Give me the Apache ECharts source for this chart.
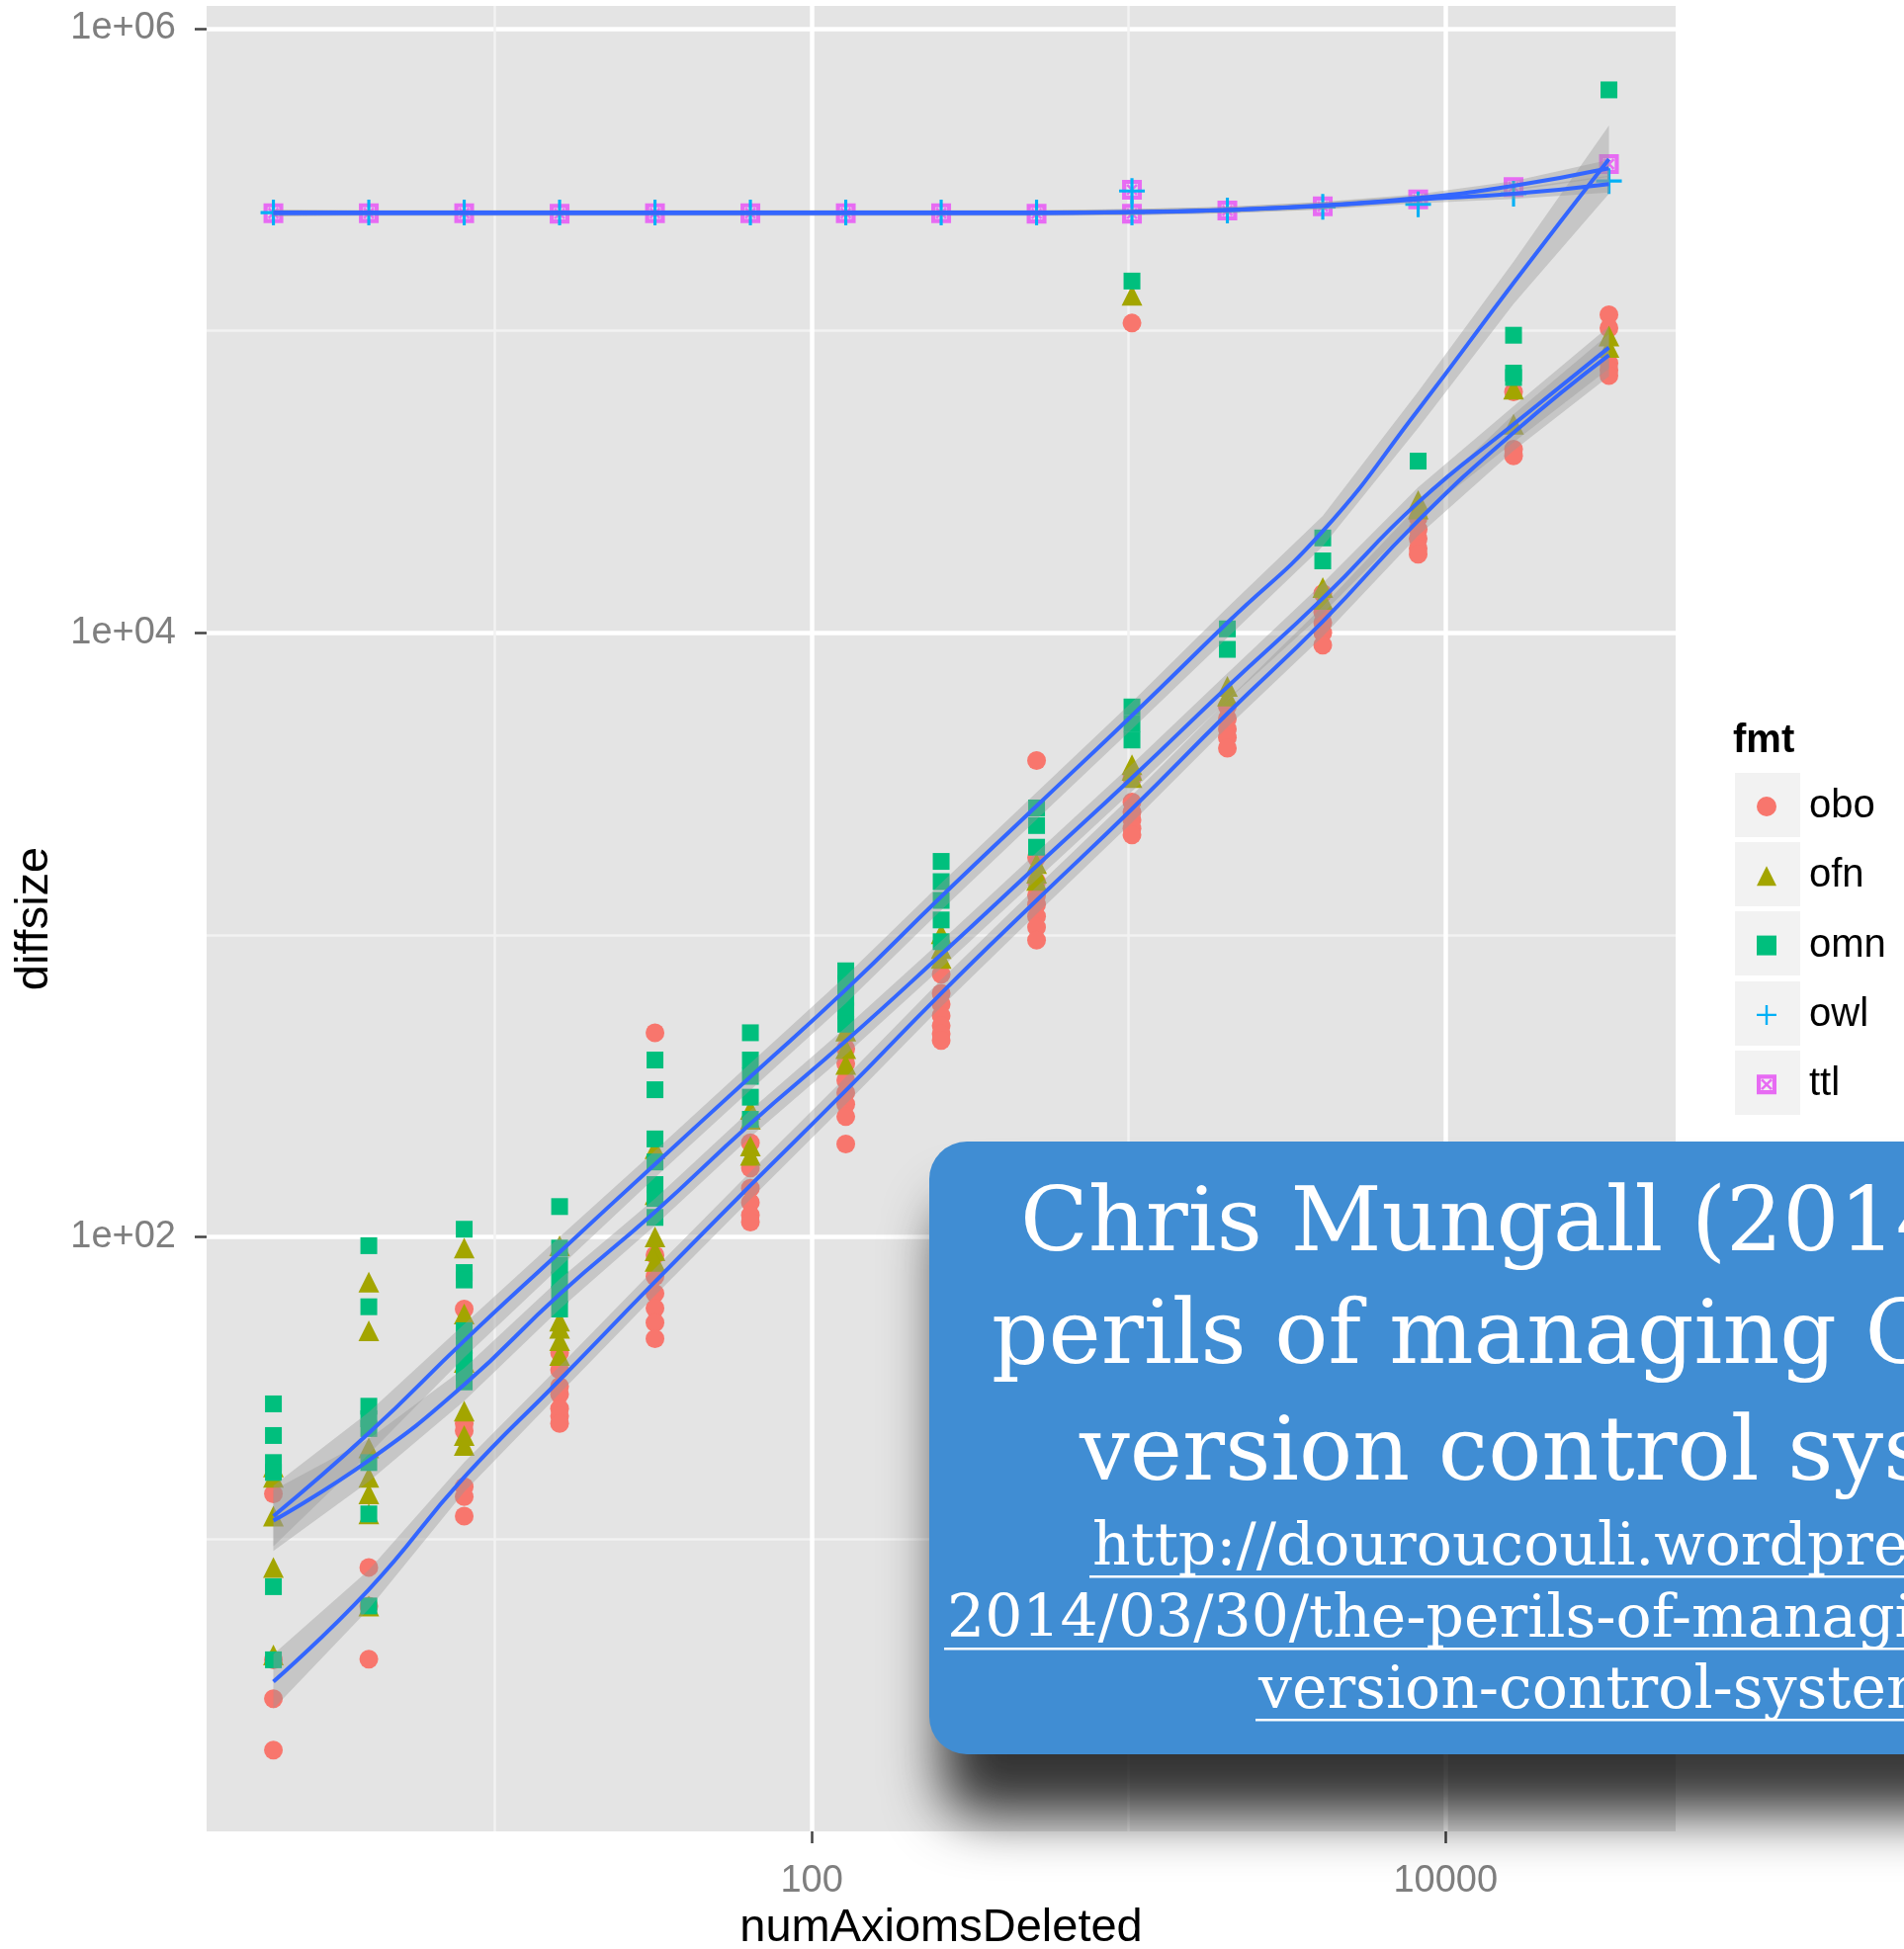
<!DOCTYPE html>
<html>
<head>
<meta charset="utf-8">
<script src="https://cdn.jsdelivr.net/npm/echarts@6.0.0/dist/echarts.min.js"></script>
<style>
html,body{margin:0;padding:0;background:#ffffff;}
#chart{width:1926px;height:1972px;}
</style>
</head>
<body>
<div id="chart"></div>
<script>
// ---------------- data ----------------
const xVals = [2, 4, 8, 16, 32, 64, 128, 256, 512, 1024, 2048, 4096, 8192, 16384, 32768];
const xTickLabels = [100, 10000];
const yTickLabels = [100, 10000, 1000000];
const formats = ['obo', 'ofn', 'omn', 'owl', 'ttl'];

const oboPts = [
  [2,14.1],[2,3.98],[2,2.96],[2,2.0],
  [4,8.05],[4,6.0],[4,4.0],
  [8,57.7],[8,24.1],[8,22.8],[8,14.9],[8,13.8],[8,11.9],
  [16,41.3],[16,36.3],[16,32],[16,30.1],[16,27],[16,25.5],[16,24.1],
  [32,474],[32,87],[32,74],[32,65],[32,58],[32,52],[32,46],
  [64,205],[64,169],[64,145],[64,130],[64,118],[64,112],
  [128,420],[128,375],[128,330],[128,300],[128,275],[128,250],[128,203],
  [256,740],[256,640],[256,590],[256,540],[256,500],[256,470],[256,447],
  [512,3776],[512,1800],[512,1500],[512,1350],[512,1260],[512,1150],[512,1060],[512,960],
  [1024,106000],[1024,3300],[1024,2750],[1024,2550],[1024,2400],[1024,2250],[1024,2140],
  [2048,5700],[2048,5200],[2048,4800],[2048,4500],[2048,4150],
  [4096,13500],[4096,11700],[4096,10800],[4096,10000],[4096,9100],
  [8192,24000],[8192,22000],[8192,20500],[8192,19000],[8192,18200],
  [16384,62700],[16384,40500],[16384,38500],
  [32768,113000],[32768,102000],[32768,78000],[32768,74000],[32768,71000]
];
const ofnPts = [
  [2,17.3],[2,16.0],[2,11.9],[2,8.05],[2,4.13],
  [4,70.8],[4,48.9],[4,20],[4,16],[4,14.1],[4,12.1],[4,6.0],
  [8,91.8],[8,55.6],[8,38.4],[8,26.5],[8,22],[8,20.4],
  [16,93.5],[16,52.6],[16,49.8],[16,45.3],[16,40.5],
  [32,196],[32,138],[32,100],[32,90],[32,83],
  [64,264],[64,245],[64,200],[64,186],
  [128,480],[128,420],[128,372],
  [256,1009],[256,900],[256,836],
  [512,1720],[512,1600],[512,1514],
  [1024,131000],[1024,3660],[1024,3500],[1024,3315],
  [2048,6640],[2048,6170],
  [4096,14100],[4096,12900],
  [8192,27400],[8192,25700],
  [16384,64000],[16384,49000],
  [32768,96000],[32768,88000]
];
const omnPts = [
  [2,28.0],[2,22.0],[2,17.9],[2,16.6],[2,6.95],[2,3.98],
  [4,93.5],[4,58.7],[4,27.5],[4,25],[4,23.2],[4,17.9],[4,12.1],[4,6.0],
  [8,106],[8,76.2],[8,72],[8,48.9],[8,43.7],[8,39],[8,35.6],[8,33.1],
  [16,126],[16,91.8],[16,80.6],[16,72],[16,64.5],[16,57.7],
  [32,385],[32,307],[32,211],[32,177],[32,149],[32,134],[32,116],
  [64,474],[64,385],[64,340],[64,290],[64,245],
  [128,760],[128,690],[128,620],[128,560],[128,506],
  [256,1750],[256,1500],[256,1300],[256,1120],[256,949],
  [512,2630],[512,2300],[512,1950],
  [1024,146000],[1024,5680],[1024,5000],[1024,4415],
  [2048,10300],[2048,8810],
  [4096,20600],[4096,17300],
  [8192,37000],
  [16384,96600],[16384,72400],[16384,70000],
  [32768,627000]
];
const owlPts = [
  [2,246000],[4,246000],[8,246000],[16,246000],[32,246000],[64,246000],[128,246000],
  [256,246000],[512,246000],[1024,290000],[1024,246000],[2048,250000],[4096,257000],
  [8192,262000],[16384,284000],[32768,313000]
];
const ttlPts = [
  [2,245000],[4,245000],[8,245000],[16,244000],[32,245000],[64,245000],[128,245000],
  [256,245000],[512,244000],[1024,293000],[1024,244000],[2048,250000],[4096,258000],
  [8192,272000],[16384,299000],[32768,356000]
];

// loess fits and confidence bands (per xVals)
const oboFit = [3.37, 6.8, 16, 33.6, 71, 148, 305, 640, 1300, 2610, 5400, 10900, 23500, 46000, 83000];
const oboLo  = [2.74, 5.86, 14.3, 30.3, 64.0, 133, 275, 577, 1172, 2353, 4869, 9715, 20945, 40070, 70640];
const oboHi  = [4.15, 7.89, 17.95, 37.3, 78.7, 164, 338, 710, 1442, 2894, 5989, 12230, 26367, 52810, 97525];
const ofnFit = [11.5, 18.2, 32.4, 64.6, 121, 237, 445, 861, 1690, 3310, 6620, 13000, 27000, 49000, 88000];
const ofnLo  = [9.13, 15.5, 28.6, 57.6, 109, 214, 401, 776, 1524, 2985, 5969, 11586, 24064, 42683, 74894];
const ofnHi  = [14.5, 21.4, 36.8, 72.5, 134, 263, 494, 955, 1874, 3671, 7342, 14586, 30294, 56252, 103400];
const omnFit = [11.9, 22.4, 45.3, 89, 174, 339, 658, 1337, 2670, 5320, 10800, 21700, 54700, 144000, 370000];
const omnLo  = [9.45, 19.1, 39.9, 79.3, 157, 306, 593, 1206, 2408, 4797, 9626, 19340, 47650, 122550, 284000];
const omnHi  = [15.0, 26.3, 51.4, 99.9, 193, 376, 730, 1483, 2961, 5900, 12118, 24347, 62800, 169200, 478200];
const owlFit = [246000,246000,246000,246000,246000,246000,246000,246000,246000,247000,251000,259000,272000,284000,306000];
const owlLo  = [240000,241000,241000,241000,241000,241000,241000,241000,241000,241000,245000,252000,264000,273000,287000];
const owlHi  = [252000,251000,251000,251000,251000,251000,251000,251000,251000,253000,257000,266000,280000,295000,326000];
const ttlFit = [245000,245000,245000,245000,245000,245000,245000,245000,245000,247000,251000,260000,275000,302000,345000];
const ttlLo  = [239000,240000,240000,240000,240000,240000,240000,240000,240000,241000,245000,253000,267000,291000,323000];
const ttlHi  = [251000,250000,250000,250000,250000,250000,250000,250000,250000,253000,257000,267000,283000,313000,368000];

const noteTitle = ['Chris Mungall (2014) The', 'perils of managing OWL in a', 'version control system'];
const noteUrl = ['http://douroucouli.wordpress.com/', '2014/03/30/the-perils-of-managing-owl-in-a-', 'version-control-system/'];

// ---------------- styling ----------------
const X_MIN = 1.231, X_MAX = 53200;
const Y_MIN = 1.076, Y_MAX = 1189000;
const colors = {obo:'#F8766D', ofn:'#A3A500', omn:'#00BF7D', owl:'#00B0F6', ttl:'#E76BF3'};
const FONT = '"Liberation Sans", Arial, Helvetica, sans-serif';
const SERIF = '"DejaVu Serif", serif';
const plusPath = 'path://M4.4,0h1.2v4.4h4.4v1.2h-4.4v4.4h-1.2v-4.4h-4.4v-1.2h4.4z';
const sqXPath = 'path://M0,0H10V10H0Z M2.1,2.1V7.9H7.9V2.1Z M2.1,3.0L3.0,2.1L7.9,7.0L7.0,7.9Z M7.0,2.1L7.9,3.0L3.0,7.9L2.1,7.0Z';

function scatter(name, data, symbol, size) {
  return {
    type: 'scatter', name, data, symbol, symbolSize: size,
    xAxisIndex: 0, yAxisIndex: 0, z: 2, silent: true,
    itemStyle: {color: colors[name], opacity: 1}
  };
}
function ribbon(name, lo, hi) {
  return {
    type: 'custom', name: name + ' band', xAxisIndex: 0, yAxisIndex: 0, z: 3, silent: true, clip: true,
    data: [[xVals[0], lo[0]]],
    renderItem: function (params, api) {
      const pts = [];
      for (let i = 0; i < xVals.length; i++) pts.push(api.coord([xVals[i], hi[i]]));
      for (let i = xVals.length - 1; i >= 0; i--) pts.push(api.coord([xVals[i], lo[i]]));
      return {type: 'polygon', shape: {points: pts}, style: {fill: 'rgba(153,153,153,0.4)'}};
    }
  };
}
function smoothLine(name, fit) {
  return {
    type: 'line', name: name + ' smooth', xAxisIndex: 0, yAxisIndex: 0, z: 4, silent: true,
    data: xVals.map((x, i) => [x, fit[i]]),
    showSymbol: false, symbol: 'none', smooth: 0.5,
    lineStyle: {color: '#3366FF', width: 4}
  };
}

const chart = echarts.init(document.getElementById('chart'), null, {renderer: 'canvas'});

// measure text widths for underlines
const mctx = document.createElement('canvas').getContext('2d');
const URL_SIZE = 60, TITLE_SIZE = 90;
mctx.font = URL_SIZE + 'px "DejaVu Serif"';
const titleX = [1032, 1003, 1092];
const titleY = [1242, 1356, 1474];
const urlX = [1105, 958, 1273];
const urlY = [1567, 1640, 1712];

const graphics = [];
// legend key backgrounds
[782, 852, 922, 993, 1063].forEach(function (y) {
  graphics.push({type: 'rect', z: 1, shape: {x: 1755, y: y, width: 66, height: 65}, style: {fill: '#F2F2F2'}});
});
graphics.push({type: 'text', z: 1, style: {text: 'fmt', x: 1753, y: 750, fill: '#000', font: 'bold 40px ' + FONT, verticalAlign: 'middle', textVerticalAlign: 'middle'}});
// note box
graphics.push({type: 'rect', z: 100, shape: {x: 940, y: 1155, width: 1364, height: 620, r: 38},
  style: {fill: '#408DD3', shadowBlur: 55, shadowOffsetX: 12, shadowOffsetY: 62, shadowColor: 'rgba(0,0,0,0.78)'}});
noteTitle.forEach(function (t, i) {
  graphics.push({type: 'text', z: 101, style: {text: t, x: titleX[i], y: titleY[i], fill: '#ffffff',
    font: TITLE_SIZE + 'px ' + SERIF, align: 'left', textAlign: 'left', verticalAlign: 'middle', textVerticalAlign: 'middle'}});
});
noteUrl.forEach(function (t, i) {
  const w = mctx.measureText(t).width;
  graphics.push({type: 'text', z: 101, style: {text: t, x: urlX[i], y: urlY[i], fill: '#ffffff',
    font: URL_SIZE + 'px ' + SERIF, align: 'left', textAlign: 'left', verticalAlign: 'middle', textVerticalAlign: 'middle'}});
  graphics.push({type: 'rect', z: 101, shape: {x: urlX[i] - 3, y: urlY[i] + 27, width: w + 3, height: 2.5}, style: {fill: '#ffffff'}});
});

const option = {
  backgroundColor: '#ffffff',
  animation: false,
  textStyle: {fontFamily: FONT},
  grid: {left: 209, right: 231, top: 6, bottom: 119, show: true, backgroundColor: '#E4E4E4', borderWidth: 0,
    containLabel: false, outerBoundsMode: 'none'},
  xAxis: [
    {type: 'log', logBase: 10, min: X_MIN, max: X_MAX, position: 'bottom',
      axisLine: {show: false}, axisTick: {show: false}, axisLabel: {show: false},
      splitLine: {show: true, showMinLine: false, showMaxLine: false, lineStyle: {color: '#F2F2F2', width: 2.5}}},
    {type: 'log', logBase: 100, min: X_MIN, max: X_MAX, position: 'bottom',
      axisLine: {show: false},
      axisTick: {show: true, length: 12, customValues: xTickLabels, lineStyle: {color: '#444', width: 2.5}},
      axisLabel: {show: true, margin: 32, fontSize: 38, color: '#7F7F7F', fontFamily: FONT, customValues: xTickLabels,
        formatter: function (v) { return String(Math.round(v)); }},
      splitLine: {show: true, lineStyle: {color: '#ffffff', width: 4.5}},
      name: 'numAxiomsDeleted', nameLocation: 'middle', nameGap: 75,
      nameTextStyle: {fontSize: 47, color: '#000', fontFamily: FONT}}
  ],
  yAxis: [
    {type: 'log', logBase: 10, min: Y_MIN, max: Y_MAX, position: 'left',
      axisLine: {show: false}, axisTick: {show: false}, axisLabel: {show: false},
      splitLine: {show: true, showMinLine: false, showMaxLine: false, lineStyle: {color: '#F2F2F2', width: 2.5}}},
    {type: 'log', logBase: 100, min: Y_MIN, max: Y_MAX, position: 'left', offset: 0,
      axisLine: {show: false},
      axisTick: {show: true, length: 12, customValues: yTickLabels, lineStyle: {color: '#444', width: 2.5}},
      axisLabel: {show: true, margin: 31, fontSize: 38, color: '#7F7F7F', fontFamily: FONT, customValues: yTickLabels,
        formatter: function (v) { const e = Math.round(Math.log10(v)); return '1e+' + (e < 10 ? '0' : '') + e; }},
      splitLine: {show: true, lineStyle: {color: '#ffffff', width: 4.5}},
      name: 'diffsize', nameLocation: 'middle', nameGap: 150, nameRotate: 90,
      nameTextStyle: {fontSize: 47, color: '#000', fontFamily: FONT}}
  ],
  legend: {
    orient: 'vertical', left: 1777, top: 796, padding: 0,
    itemWidth: 20, itemHeight: 20, itemGap: 30.3, selectedMode: false,
    textStyle: {fontSize: 40, color: '#000', fontFamily: FONT, lineHeight: 40, padding: [0, 0, 0, 28]},
    data: formats
  },
  graphic: graphics,
  series: [
    scatter('obo', oboPts, 'circle', 19),
    scatter('ofn', ofnPts, 'triangle', 21),
    scatter('omn', omnPts, 'rect', 17),
    scatter('ttl', ttlPts, sqXPath, 20),
    scatter('owl', owlPts, plusPath, 26),
    ribbon('obo', oboLo, oboHi),
    ribbon('ofn', ofnLo, ofnHi),
    ribbon('omn', omnLo, omnHi),
    ribbon('owl', owlLo, owlHi),
    ribbon('ttl', ttlLo, ttlHi),
    smoothLine('obo', oboFit),
    smoothLine('ofn', ofnFit),
    smoothLine('omn', omnFit),
    smoothLine('owl', owlFit),
    smoothLine('ttl', ttlFit)
  ]
};
chart.setOption(option);
</script>
</body>
</html>
